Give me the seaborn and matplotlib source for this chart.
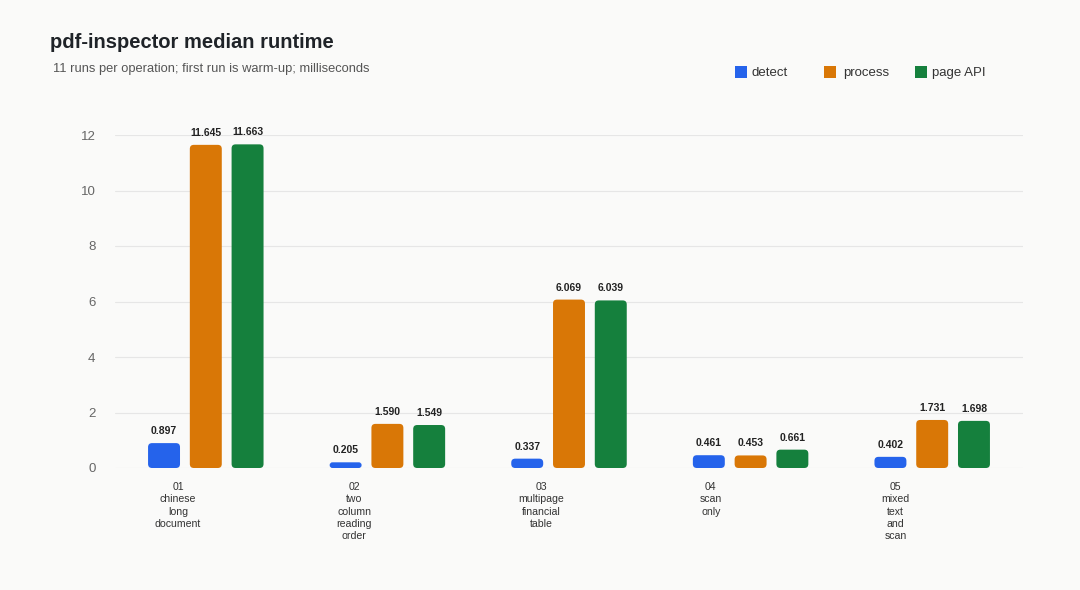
import numpy as np
import pandas as pd
import matplotlib
matplotlib.use("Agg")
import matplotlib.pyplot as plt
from matplotlib.patches import FancyBboxPatch, Rectangle
import seaborn as sns

categories = ["01\nchinese\nlong\ndocument",
              "02\ntwo\ncolumn\nreading\norder",
              "03\nmultipage\nfinancial\ntable",
              "04\nscan\nonly",
              "05\nmixed\ntext\nand\nscan"]
series = ["detect", "process", "page API"]
detect = [0.897, 0.205, 0.337, 0.461, 0.402]
process = [11.645, 1.590, 6.069, 0.453, 1.731]
page_api = [11.663, 1.549, 6.039, 0.661, 1.698]
colors = ["#2563eb", "#d97706", "#15803d"]
yticks = [0, 2, 4, 6, 8, 10, 12]

rows = []
for name, vals in zip(series, [detect, process, page_api]):
    for c, v in zip(categories, vals):
        rows.append({"case": c, "op": name, "ms": v})
df = pd.DataFrame(rows)

sns.set_theme(style="white")
plt.rcParams["font.family"] = ["Liberation Sans", "DejaVu Sans"]
bg = "#fafaf9"
W, H = 1080, 590
fig = plt.figure(figsize=(10.8, 5.9), dpi=100, facecolor=bg)
ax = fig.add_axes([115/W, 1-468/H, (1023-115)/W, (468-135)/H])
ax.set_facecolor(bg)

sns.barplot(data=df, x="case", y="ms", hue="op", order=categories,
            hue_order=series, palette=colors, width=0.69, gap=0.235,
            saturation=1, errorbar=None, legend=False, ax=ax)

ax.set_xlim(-0.5, 4.5)
ax.set_ylim(0, 12)

# rounded bars
px_x = 1/182.0
px_y = 1/27.75
aspect = px_y / px_x
for p in list(ax.patches):
    x, y = p.get_x(), p.get_y()
    w, h = p.get_width(), p.get_height()
    r = min(4*px_x, w/2, h/aspect/2)
    fb = FancyBboxPatch((x, y), w, h,
                        boxstyle=f"round,pad=0,rounding_size={r}",
                        mutation_aspect=aspect, facecolor=p.get_facecolor(),
                        edgecolor="none", zorder=3)
    ax.add_patch(fb)
    p.set_visible(False)
    ax.text(x + w/2, y + h + 7*px_y, f"{h:.3f}", ha="center", va="bottom",
            fontsize=7.5, fontweight="bold", color="#222222", clip_on=False)

ax.set_yticks(yticks)
ax.set_yticklabels([str(t) for t in yticks])
ax.yaxis.grid(True, color="#e6e6e6", linewidth=0.8, zorder=0)
ax.set_axisbelow(True)
for s in ax.spines.values():
    s.set_visible(False)
ax.tick_params(axis="y", length=0, pad=14, labelsize=9.5, labelcolor="#666666")

ax.set_xticks(np.arange(len(categories)) - 0.28)
ax.set_xticklabels(categories)
for t in ax.get_xticklabels():
    t.set_ha("left")
    t.set_multialignment("center")
    t.set_linespacing(1.3)
ax.tick_params(axis="x", length=0, pad=10, labelsize=7.6, labelcolor="#333333")
ax.set_xlabel("")
ax.set_ylabel("")

fig.text(50/W, 1-42/H, "pdf-inspector median runtime", fontsize=14.5,
         fontweight="bold", color="#1f2328", va="center", ha="left")
fig.text(53/W, 1-69/H, "11 runs per operation; first run is warm-up; milliseconds",
         fontsize=9.3, color="#555555", va="center", ha="left")

# legend
leg_sq_x = [735, 824, 915]
leg_tx_x = [752, 843, 932]
leg_y = 72
sq = 12
for c, name, sx, tx in zip(colors, series, leg_sq_x, leg_tx_x):
    fig.patches.append(Rectangle((sx/W, 1-(leg_y+sq/2)/H), sq/W, sq/H,
                                 transform=fig.transFigure, facecolor=c,
                                 edgecolor="none"))
    fig.text(tx/W, 1-(leg_y+1)/H, name, fontsize=9.5, color="#333333",
             va="center", ha="left")

fig.savefig("out.png", dpi=100, facecolor=bg)
